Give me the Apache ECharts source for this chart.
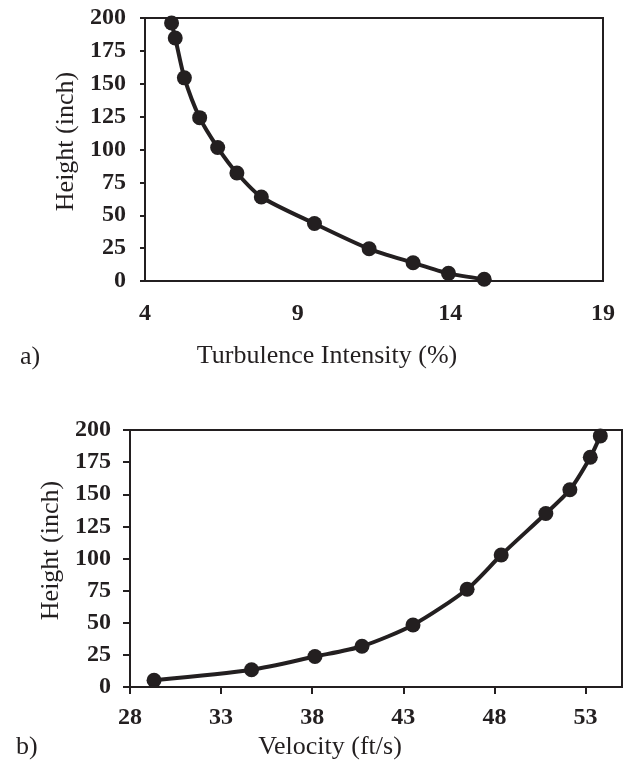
<!DOCTYPE html>
<html>
<head>
<meta charset="utf-8">
<script src="https://cdn.jsdelivr.net/npm/echarts@6/dist/echarts.min.js"></script>
<style>
html,body{margin:0;padding:0;background:#fff;}
#c{width:630px;height:764px;}
</style>
</head>
<body>
<div id="c"></div>
<script>
// Panel a) Turbulence intensity profile
var tiX = [4.87, 4.99, 5.29, 5.79, 6.38, 7.01, 7.81, 9.55, 11.34, 12.78, 13.94, 15.11];
var tiY = [196.2, 184.8, 154.5, 124.2, 101.5, 82.1, 63.9, 43.7, 24.5, 13.9, 5.8, 1.3];
var tiTicks = [4, 9, 14, 19];

// Panel b) Velocity profile
var velX = [29.32, 34.67, 38.15, 40.73, 43.53, 46.50, 48.37, 50.82, 52.14, 53.26, 53.81];
var velY = [5.2, 13.4, 23.7, 31.7, 48.3, 76.1, 102.7, 135.0, 153.5, 178.8, 195.4];
var velTicks = [28, 33, 38, 43, 48, 53];

var heightTicks = [0, 25, 50, 75, 100, 125, 150, 175, 200];

var INK = '#231f20';
var FONT = '"Liberation Serif", "Times New Roman", serif';

function pairs(xs, ys) { return xs.map(function (x, i) { return [x, ys[i]]; }); }

var labelStyle = { color: INK, fontFamily: FONT, fontWeight: 'bold', fontSize: 24 };
var nameStyle = { color: INK, fontFamily: FONT, fontSize: 26 };

function yAxis(gridIndex, gap, tickLen) {
  return {
    type: 'value', gridIndex: gridIndex, min: 0, max: 200, interval: 25,
    name: 'Height (inch)', nameLocation: 'middle', nameRotate: 90, nameGap: gap,
    nameTextStyle: Object.assign({ padding: [0, 0, 0, 16] }, nameStyle),
    axisLine: { show: true, lineStyle: { color: INK, width: 2 } },
    axisTick: { show: true, inside: false, length: tickLen, lineStyle: { color: INK, width: 2 } },
    axisLabel: Object.assign({ margin: 19, customValues: heightTicks }, labelStyle),
    splitLine: { show: false }
  };
}

var chart = echarts.init(document.getElementById('c'), null, { renderer: 'canvas' });
chart.setOption({
  backgroundColor: '#ffffff',
  animation: false,
  grid: [
    { left: 145, right: 27, top: 18, bottom: 483, show: true, borderColor: INK, borderWidth: 2, containLabel: false },
    { left: 130, right: 8, top: 430, bottom: 77, show: true, borderColor: INK, borderWidth: 2, containLabel: false }
  ],
  xAxis: [
    {
      type: 'value', gridIndex: 0, min: 4, max: 19,
      name: 'Turbulence Intensity (%)', nameLocation: 'middle', nameGap: 62,
      nameTextStyle: Object.assign({ padding: [0, 94, 0, 0] }, nameStyle),
      axisLine: { show: true, lineStyle: { color: INK, width: 2 } },
      axisTick: { show: false },
      axisLabel: Object.assign({ margin: 21, customValues: tiTicks }, labelStyle),
      splitLine: { show: false }
    },
    {
      type: 'value', gridIndex: 1, min: 28, max: 55,
      name: 'Velocity (ft/s)', nameLocation: 'middle', nameGap: 47,
      nameTextStyle: Object.assign({ padding: [0, 92, 0, 0] }, nameStyle),
      axisLine: { show: true, lineStyle: { color: INK, width: 2 } },
      axisTick: { show: true, inside: false, length: 7, customValues: velTicks, lineStyle: { color: INK, width: 2 } },
      axisLabel: Object.assign({ margin: 19, customValues: velTicks }, labelStyle),
      splitLine: { show: false }
    }
  ],
  yAxis: [ yAxis(0, 64, 5), yAxis(1, 61, 7) ],
  graphic: [
    { type: 'text', left: 20, top: 344, style: { text: 'a)', fill: INK, font: '26px ' + FONT } },
    { type: 'text', left: 16, top: 734, style: { text: 'b)', fill: INK, font: '26px ' + FONT } }
  ],
  series: [
    {
      type: 'line', xAxisIndex: 0, yAxisIndex: 0, data: pairs(tiX, tiY),
      smooth: 0.25, clip: false,
      symbol: 'circle', symbolSize: 15,
      lineStyle: { color: INK, width: 4 },
      itemStyle: { color: INK }
    },
    {
      type: 'line', xAxisIndex: 1, yAxisIndex: 1, data: pairs(velX, velY),
      smooth: 0.25, clip: false,
      symbol: 'circle', symbolSize: 15,
      lineStyle: { color: INK, width: 4 },
      itemStyle: { color: INK }
    }
  ]
});
</script>
</body>
</html>
